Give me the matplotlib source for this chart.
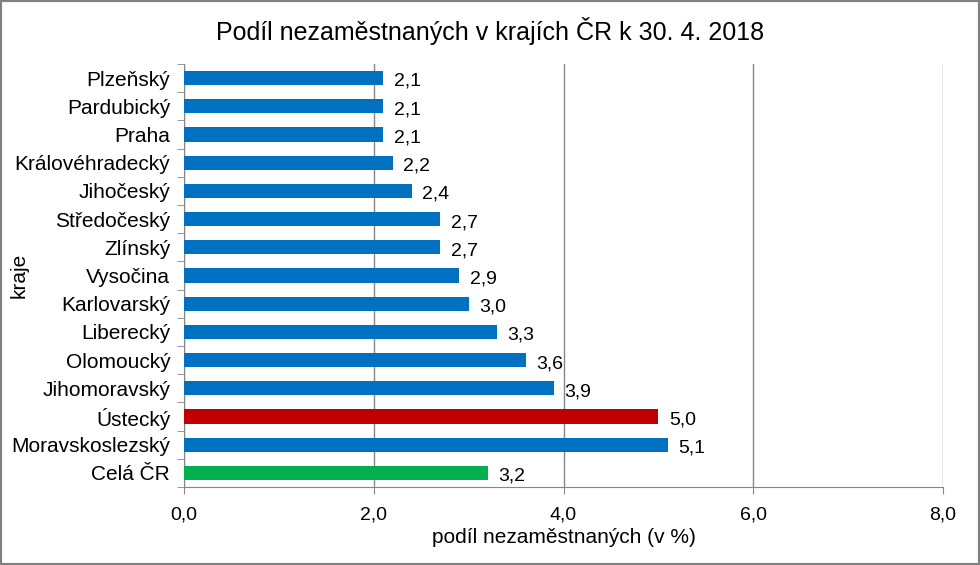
import numpy as np
import matplotlib.pyplot as plt
from matplotlib.patches import Rectangle

plt.rcParams['font.family'] = ['Liberation Sans', 'DejaVu Sans']

kraje = ["Plzeňský", "Pardubický", "Praha", "Královéhradecký", "Jihočeský",
         "Středočeský", "Zlínský", "Vysočina", "Karlovarský", "Liberecký",
         "Olomoucký", "Jihomoravský", "Ústecký", "Moravskoslezský", "Celá ČR"]
hodnoty = [2.1, 2.1, 2.1, 2.2, 2.4, 2.7, 2.7, 2.9, 3.0, 3.3, 3.6, 3.9, 5.0, 5.1, 3.2]
barvy = ["#0070C0"] * 12 + ["#C00000", "#0070C0", "#00B050"]
xticks = [0, 2, 4, 6, 8]

fig = plt.figure(figsize=(9.8, 5.65), dpi=100)
ax = fig.add_axes([0.1878, 0.138, 0.7744, 0.7487])

y = np.arange(len(kraje))
ax.barh(y, hodnoty, height=0.5, color=barvy, zorder=3)
for yi, v in zip(y, hodnoty):
    ax.text(v + 0.11, yi + 0.12, f"{v:.1f}".replace(".", ","), va="center", ha="left",
            fontsize=14, zorder=4)

ax.set_ylim(len(kraje) - 0.5, -0.5)
ax.set_xlim(0, 8)
ax.set_yticks(y)
ax.set_yticklabels(kraje, fontsize=15)
ax.set_yticks(np.arange(len(kraje) + 1) - 0.5, minor=True)
ax.tick_params(axis="y", which="major", length=0, pad=10)
ax.tick_params(axis="y", which="minor", length=5, color="#868686")
ax.set_xticks(xticks)
ax.set_xticklabels([f"{t:.1f}".replace(".", ",") for t in xticks], fontsize=14)
ax.tick_params(axis="x", length=5, color="#868686", pad=9)
ax.grid(axis="x", color="#868686", linewidth=1, zorder=0)

for s in ["top", "right"]:
    ax.spines[s].set_visible(False)
for s in ["left", "bottom"]:
    ax.spines[s].set_color("#868686")

ax.set_xlabel("podíl nezaměstnaných (v %)", fontsize=15, labelpad=3)
ax.set_ylabel("kraje", fontsize=15)
ax.yaxis.set_label_coords(-0.205, 0.5)

fig.suptitle("Podíl nezaměstnaných v krajích ČR k 30. 4. 2018", fontsize=18, y=0.97)

fig.patches.append(Rectangle((0, 0), 1, 1, transform=fig.transFigure, fill=False,
                             edgecolor="#808080", linewidth=3))

fig.savefig("out.png", dpi=100)
